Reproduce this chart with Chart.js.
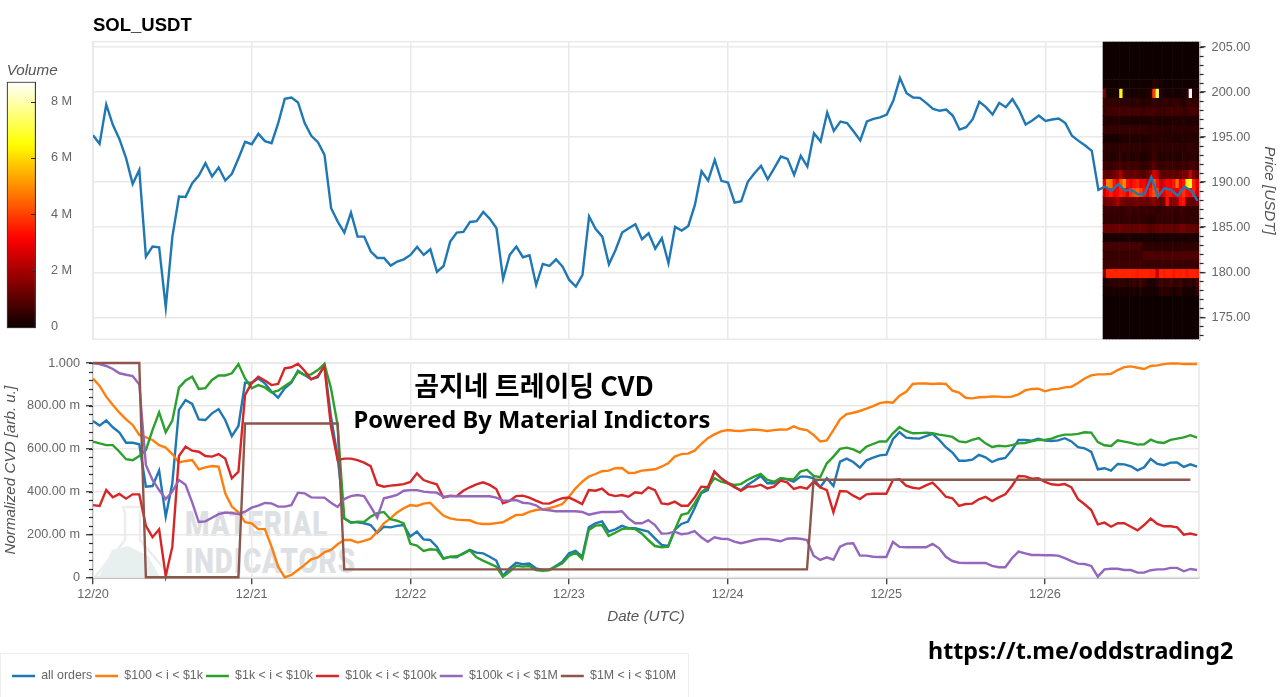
<!DOCTYPE html>
<html lang="en"><head><meta charset="utf-8"><title>SOL_USDT CVD</title>
<script src="https://cdn.jsdelivr.net/npm/chart.js@4"></script>
<style>
html,body{margin:0;padding:0;width:1280px;height:697px;overflow:hidden;background:#fff}
canvas{position:absolute;z-index:2}
.t{position:absolute;white-space:nowrap;z-index:3;color:#000}
</style></head><body>
<svg width="200" height="90" style="position:absolute;left:85px;top:495px;z-index:0" viewBox="85 495 200 90">
<path d="M123 507 L143 507 L140 513 L140 540 L171 577 L95 577 L125 540 L125 513 Z" fill="none" stroke="#eceeee" stroke-width="2.5"/>
<path d="M112 550 L128 546 L148 556 L160 577 L99 577 Z" fill="#e7efef"/>
</svg>
<div class="wm" id="wm1" style="position:absolute;z-index:0;left:185px;top:504px;font:900 35px Roboto;color:#dde1e4;transform:scaleX(.8);transform-origin:0 0;letter-spacing:1px">MATERIAL</div>
<div class="wm" id="wm2" style="position:absolute;z-index:0;left:185px;top:541px;font:900 35px Roboto;color:#dde1e4;transform:scaleX(.8);transform-origin:0 0;letter-spacing:1px">INDICATORS</div>
<div style="position:absolute;z-index:0;left:0;top:653px;width:687px;height:44px;border:1px solid #eeeeee;border-bottom:0"></div>
<div class="t" style="left:534px;top:365px;transform:translateX(-50%);font:700 27px 'Noto Sans CJK KR'">곰지네 트레이딩 CVD</div>
<div class="t" style="left:532px;top:403px;transform:translateX(-50%);font:700 23.7px 'Noto Sans'">Powered By Material Indictors</div>
<div class="t" style="left:928px;top:634px;font:700 23.3px 'Noto Sans'">https://t.me/oddstrading2</div>
<canvas id="bar" width="93" height="280" style="left:0;top:60px"></canvas>
<canvas id="price" width="1280" height="345" style="left:0;top:0"></canvas>
<canvas id="cvd" width="1280" height="352" style="left:0;top:345px"></canvas>
<script>
const chartTitle = 'SOL_USDT';
const dayLabels = ['12/20','12/21','12/22','12/23','12/24','12/25','12/26'];
const cvdTickLabels = ['0','200.00 m','400.00 m','600.00 m','800.00 m','1.000'];
const volumeTickLabels = ['0','2 M','4 M','6 M','8 M'];
const seriesNames = ['all orders','$100 < i < $1k','$1k < i < $10k','$10k < i < $100k','$100k < i < $1M','$1M < i < $10M'];
const seriesColors = ['#1f77b4','#ff7f0e','#2ca02c','#d62728','#9467bd','#8c564b'];

const priceUsdt = [195.22,194.26,198.63,196.37,194.78,192.67,189.81,191.37,181.74,182.85,182.78,176.11,183.96,188.41,188.37,189.89,190.74,192.11,190.63,191.63,190.19,190.93,192.67,194.48,194.22,195.37,194.56,194.33,196.56,199.26,199.41,198.85,196.56,195.15,194.44,193.04,187.11,185.63,184.41,186.63,183.96,183.96,182.30,181.59,181.59,180.74,181.19,181.44,181.93,182.81,181.93,182.56,180.04,180.70,183.41,184.41,184.48,185.59,185.67,186.70,185.93,184.89,179.26,181.93,182.85,181.67,181.89,178.59,180.93,180.70,181.44,180.63,179.15,178.41,179.70,186.19,184.81,183.96,180.89,182.48,184.41,184.89,185.33,183.67,184.33,182.63,183.78,181.00,185.04,184.63,185.15,187.48,191.22,190.19,192.48,190.15,189.96,187.74,187.89,190.04,191.00,191.81,190.33,191.56,192.85,192.59,190.81,192.93,191.74,195.44,194.52,197.74,195.70,196.74,196.56,195.63,194.63,196.74,197.04,197.19,197.52,199.07,201.56,199.89,199.41,199.37,198.78,198.15,197.93,198.07,197.37,195.85,196.11,197.00,198.93,198.33,197.52,198.81,198.33,199.22,198.04,196.41,196.85,197.41,196.81,196.96,197.07,196.56,195.15,194.59,194.07,193.48,189.15,189.52,189.04,189.78,189.07,189.15,188.63,188.70,190.56,188.41,189.33,189.15,188.48,189.52,189.07,187.93];

const cvdAll = [.729,.708,.732,.700,.675,.628,.628,.621,.423,.426,.498,.283,.439,.781,.827,.809,.737,.734,.765,.785,.734,.659,.706,.908,.908,.928,.905,.866,.838,.882,.908,.964,.944,.924,.933,.991,.750,.563,.275,.257,.257,.252,.244,.208,.236,.233,.240,.244,.190,.213,.177,.174,.143,.089,.095,.093,.112,.128,.115,.112,.096,.078,.006,.042,.068,.061,.064,.042,.034,.034,.053,.073,.112,.123,.096,.233,.252,.261,.213,.224,.240,.229,.229,.221,.213,.182,.151,.146,.221,.249,.260,.322,.392,.407,.493,.462,.442,.420,.407,.431,.451,.473,.439,.439,.462,.457,.446,.470,.470,.462,.420,.462,.426,.540,.554,.538,.512,.546,.558,.569,.572,.644,.677,.652,.649,.647,.659,.669,.641,.607,.582,.544,.544,.549,.571,.560,.538,.551,.557,.594,.641,.641,.638,.647,.638,.636,.639,.649,.634,.607,.602,.585,.504,.509,.498,.529,.527,.518,.499,.513,.552,.529,.523,.535,.536,.515,.527,.516];
const cvd100to1k = [.928,.893,.843,.804,.768,.737,.711,.664,.653,.641,.617,.605,.575,.536,.543,.547,.504,.513,.519,.516,.392,.330,.303,.257,.252,.225,.225,.143,.050,0,.011,.034,.058,.084,.093,.117,.128,.154,.174,.174,.162,.170,.180,.213,.252,.275,.303,.322,.337,.333,.344,.348,.317,.288,.275,.269,.267,.266,.253,.249,.249,.253,.257,.274,.291,.292,.305,.314,.317,.323,.331,.342,.376,.415,.446,.470,.482,.495,.498,.509,.510,.487,.488,.498,.501,.504,.516,.532,.563,.575,.577,.591,.622,.649,.667,.681,.687,.684,.683,.687,.690,.687,.683,.687,.690,.689,.704,.692,.687,.664,.634,.639,.687,.737,.762,.768,.776,.787,.799,.813,.818,.815,.847,.866,.902,.905,.904,.902,.904,.902,.871,.862,.838,.835,.840,.841,.844,.843,.841,.843,.854,.872,.879,.880,.868,.877,.879,.886,.889,.907,.928,.942,.947,.947,.950,.967,.981,.984,.978,.972,.986,.989,.995,.998,.998,.995,.995,.995];
const cvd1kto10k = [.633,.625,.617,.617,.586,.551,.546,.566,.594,.687,.770,.677,.731,.885,.918,.936,.879,.883,.921,.942,.942,.952,.995,.928,.882,.897,.886,.863,.871,.893,.913,.959,.944,.947,.967,.995,.882,.711,.275,.255,.260,.258,.283,.299,.305,.271,.264,.252,.156,.148,.123,.131,.128,.086,.096,.098,.109,.126,.093,.078,.064,.050,.003,.026,.054,.050,.053,.034,.030,.034,.050,.065,.100,.115,.086,.221,.241,.244,.193,.208,.225,.229,.225,.205,.174,.146,.140,.143,.221,.292,.299,.345,.397,.420,.462,.446,.439,.431,.435,.454,.470,.482,.454,.446,.462,.459,.457,.493,.502,.473,.467,.532,.563,.599,.605,.597,.582,.610,.622,.634,.634,.672,.701,.683,.672,.673,.675,.672,.666,.661,.655,.634,.630,.641,.650,.625,.608,.614,.611,.617,.625,.627,.634,.641,.641,.647,.659,.666,.666,.669,.677,.675,.631,.616,.613,.639,.633,.627,.619,.621,.642,.630,.627,.641,.647,.653,.663,.652];
const cvd10kto100k = [.337,.333,.407,.373,.389,.367,.387,.387,.240,.187,.224,.006,.143,.566,.610,.591,.586,.566,.563,.575,.554,.462,.493,.851,.905,.936,.918,.897,.902,.975,.980,.997,.964,.924,.939,.983,.703,.547,.554,.554,.547,.535,.519,.432,.423,.428,.431,.435,.445,.485,.454,.443,.434,.372,.381,.379,.404,.420,.434,.443,.431,.412,.345,.356,.379,.381,.372,.358,.345,.344,.358,.369,.372,.358,.342,.407,.404,.414,.387,.379,.384,.376,.397,.392,.420,.407,.345,.341,.353,.334,.334,.372,.423,.420,.493,.463,.439,.423,.403,.423,.423,.432,.415,.423,.451,.443,.412,.421,.414,.446,.420,.407,.303,.403,.401,.381,.365,.387,.390,.390,.390,.454,.457,.428,.418,.414,.429,.442,.411,.376,.369,.333,.342,.344,.364,.375,.356,.373,.387,.426,.473,.471,.460,.462,.445,.434,.431,.435,.420,.365,.341,.314,.247,.255,.236,.252,.252,.236,.219,.244,.274,.249,.238,.238,.233,.199,.204,.197];
const cvd100kto1M = [1,.995,.986,.972,.952,.945,.939,.900,.524,.454,.407,.365,.400,.454,.432,.350,.258,.261,.278,.295,.302,.300,.295,.306,.325,.334,.347,.345,.330,.330,.337,.395,.392,.373,.372,.372,.348,.328,.365,.379,.384,.379,.330,.278,.369,.376,.384,.404,.407,.407,.400,.397,.395,.376,.378,.378,.378,.378,.378,.378,.378,.372,.359,.358,.361,.348,.345,.336,.316,.313,.308,.308,.308,.308,.305,.292,.299,.305,.305,.305,.308,.275,.252,.252,.267,.244,.204,.205,.213,.201,.205,.215,.187,.166,.187,.180,.179,.166,.159,.166,.174,.179,.179,.174,.168,.180,.182,.180,.174,.101,.081,.093,.082,.143,.157,.159,.101,.101,.096,.095,.095,.165,.142,.140,.140,.140,.140,.156,.135,.096,.076,.068,.067,.067,.067,.067,.053,.047,.047,.089,.120,.112,.104,.104,.103,.103,.101,.089,.076,.064,.062,.053,.003,.037,.040,.040,.034,.034,.022,.022,.033,.037,.037,.044,.044,.028,.039,.034];
const cvd1Mto10M = [1,1,1,1,1,1,1,1,0,0,0,0,0,0,0,0,0,0,0,0,0,0,0,.718,.718,.718,.718,.718,.718,.718,.718,.718,.718,.718,.718,.718,.718,.718,.037,.037,.037,.037,.037,.037,.037,.037,.037,.037,.037,.037,.037,.037,.037,.037,.037,.037,.037,.037,.037,.037,.037,.037,.037,.037,.037,.037,.037,.037,.037,.037,.037,.037,.037,.037,.037,.037,.037,.037,.037,.037,.037,.037,.037,.037,.037,.037,.037,.037,.037,.037,.037,.037,.037,.037,.037,.037,.037,.037,.037,.037,.037,.037,.037,.037,.037,.037,.037,.037,.037,.455,.455,.455,.455,.455,.455,.455,.455,.455,.455,.455,.455,.455,.455,.455,.455,.455,.455,.455,.455,.455,.455,.455,.455,.455,.455,.455,.455,.455,.455,.455,.455,.455,.455,.455,.455,.455,.455,.455,.455,.455,.455,.455,.455,.455,.455,.455,.455,.455,.455,.455,.455,.455,.455,.455,.455,.455,.455];
const cvdSeries = [cvdAll,cvd100to1k,cvd1kto10k,cvd10kto100k,cvd100kto1M,cvd1Mto10M];

// Volume profile heat map: hour of each column, price edges of each row, volume (millions) per row/column
const heatHours = [152.95,153.45,153.95,154.45,154.95,155.45,155.95,156.45,156.95,157.45,157.95,158.45,158.95,159.45,159.95,160.45,160.95,161.45,161.95,162.45,162.95,163.45,163.95,164.45,164.95,165.45,165.95,166.45,166.95];
const heatPriceEdges = [172.4,177.4,178.4,179.4,180.4,181.4,182.4,183.4,184.4,185.4,186.4,187.4,188.4,189.4,190.4,191.4,192.4,193.4,194.4,195.4,196.4,197.4,198.4,199.4,200.4,201.4,205.7];
const heatVolume = [
[0,0,0,0,0,0,0,0,0,0,0,0,0,0,0,0,0,0,0,0,0,0,0,0,0,0,0,0,0],
[.1,.1,.1,.2,.1,.1,.15,.1,.1,.25,.1,.3,.1,.1,.1,.1,.1,.4,.3,.4,.25,.1,.3,.4,.1,.1,.15,.1,.45],
[.2,.3,.4,.45,.4,.45,.5,.3,.45,.6,.4,.7,.5,.3,.2,.15,.45,.7,.5,.6,.75,.45,.5,.7,.4,.4,.5,.3,.75],
[1.5,3.6,3.6,3.6,3.6,3.6,3.6,3.6,3.6,3.6,3.5,3.6,3.6,3.6,3.5,3.5,2.4,3.6,3.5,3.6,3.6,3.4,3.6,3.5,3.6,3.4,3.6,3.6,3.5],
[.6,.6,.6,.6,.6,.6,.6,.6,.6,.6,.6,.6,.55,.55,.55,.55,.55,.55,.55,.55,.55,.55,.55,.55,.55,.55,.55,.55,.55],
[.55,.55,.55,.55,.55,.55,.55,.55,.55,.55,.55,.55,.8,.8,.8,.8,.8,.8,.8,.8,.8,.8,.8,.8,.8,.8,.8,.8,.8],
[.7,.7,.7,.7,.7,.7,.7,.7,.7,.7,.7,.7,.4,.4,.4,.4,.4,.4,.4,.4,.4,.4,.4,.4,.4,.4,.4,.4,.4],
[.15,.15,.2,.15,.15,.1,.15,.2,.15,.15,.15,.1,.15,.2,.15,.1,.15,.2,.2,.15,.2,.15,.15,.2,.15,.15,.2,.2,.15],
[1.2,1.2,1.1,1.1,1.2,1.2,1.1,1.1,1,1.1,1.1,1.2,1.1,1,.9,1,1.1,1.2,1,1.2,1.1,1,1.1,1.3,1.3,1.1,1.1,1.1,1],
[.45,.5,.45,.5,.45,.4,.5,.5,.45,.45,.5,.45,.45,.4,.3,.4,.5,.45,.5,.5,.5,.45,.45,.5,.5,.45,.5,.45,.45],
[.5,.6,.5,.6,.5,.45,.5,.6,.6,.5,.6,.5,.5,.6,.45,.5,.45,.45,.5,.6,.6,.5,.5,.6,.5,.5,.45,.45,.45],
[1.2,1.4,1.3,1.6,2,1.4,1.3,1.2,1.1,1.3,1.4,1.1,1.3,1.1,1.4,1.6,1.2,1,1.2,3.4,1.4,1.6,1.8,3.2,3.4,1.3,1.2,1.1,1.3],
[2.4,3.2,3.6,3,3.2,3.6,3.4,2.8,3.8,4.2,4.4,4,3.4,3,3.6,4.2,4,2.6,2.8,3.4,3.4,3,2.8,3.4,3.8,3.2,3,3.6,2.6],
[2.7,4.8,4.6,3.4,2.8,4.2,5,3.4,3,3.4,3.6,3,3.2,2.6,3,4.4,3.4,2.4,2.6,3.2,3,3.4,4.6,3,3.4,6.2,6.8,3.6,2.8],
[1.1,1,1,1.3,1.5,2,1.2,1.1,1,1.2,1.1,.9,.9,1.1,1.5,2.6,2.2,1,.9,1.1,1,1.1,1,1.1,1.4,1.3,2.4,1.4,1],
[.6,.5,.5,.6,.7,.7,.5,.7,.5,.6,.6,.45,.45,.5,.7,1,.6,.5,.5,.7,.5,.6,.5,.5,.7,.5,.75,.7,.5],
[.4,.35,.3,.25,.4,.45,.25,.4,.2,.3,.4,.2,.2,.3,.4,.6,.4,.2,.3,.4,.2,.4,.25,.2,.4,.3,.4,.45,.3],
[.45,.45,.4,.4,.4,.45,.5,.45,.4,.45,.4,.45,.35,.4,.45,.55,.45,.4,.4,.45,.4,.4,.45,.4,.4,.45,.5,.45,.4],
[.15,.1,.1,.1,.1,.15,.25,.25,.3,.25,.25,.25,.2,.3,.3,.4,.35,.35,.3,.35,.3,.3,.25,.3,.3,.3,.35,.3,.3],
[.5,.45,.5,.5,.5,.5,.5,.5,.5,.5,.5,.5,.5,.45,.4,.45,.4,.4,.4,.4,.3,.4,.4,.4,.4,.4,.4,.4,.4],
[.3,.2,.2,.3,.3,.2,.2,.2,.2,.15,.15,.2,.2,.2,.2,.3,.2,.2,.2,.2,.2,.2,.3,.2,.3,.2,.2,.3,.2],
[.5,.6,.6,.7,.7,.7,.6,.7,.6,.7,.7,.6,.6,.7,.7,.7,.6,.6,.5,.7,.7,.6,.7,.7,.5,.6,.7,.7,.6],
[.5,.45,.45,.5,.4,.4,.45,.4,.3,.4,.45,.3,.2,.4,.4,.5,.4,.4,.45,.5,.3,.45,.5,.4,.2,.5,.6,.45,.4],
[1.4,.1,.1,.1,.1,6.4,.2,.1,.1,.1,.1,.1,.1,.2,.3,4,7.2,.3,.15,.1,.1,.1,.1,.1,.15,.4,8.7,.3,.15],
[.05,.05,.05,.05,.05,.05,.05,.05,.05,.05,.05,.05,.05,.05,.05,.3,.3,.05,.05,.05,.05,.05,.05,.05,.05,.05,.05,.05,.05],
[0,0,0,0,0,0,0,0,0,0,0,0,0,0,0,0,0,0,0,0,0,0,0,0,0,0,0,0,0]
];
const volumeMin = -0.05, volumeMax = 8.71;

const GRID = '#e9e9e9', AXIS = '#2b2b2b', TEXT = '#666666', TITLE = '#555555';
const SANS = "'Liberation Sans'";
const clamp = v => Math.max(0, Math.min(1, v));
function hot(f){
  const r = clamp(0.0416 + f/0.365*0.9584), g = clamp((f-0.365)/0.381), b = clamp((f-0.746)/0.254);
  return `rgb(${Math.round(r*255)},${Math.round(g*255)},${Math.round(b*255)})`;
}
const heatCells = [];
heatVolume.forEach((row,r)=>row.forEach((v,c)=>heatCells.push({x:heatHours[c],y:[heatPriceEdges[r],heatPriceEdges[r+1]],v})));

const frame = {id:'frame',beforeDatasetsDraw(c){
  const a=c.chartArea,x=c.ctx;x.save();x.strokeStyle=GRID;x.lineWidth=1.5;
  x.strokeRect(a.left,a.top,a.width,a.height);x.restore();}};
const minor = (axis,step,len,side)=>({id:'minor',afterDraw(c){
  const s=c.scales[axis],a=c.chartArea,x=c.ctx;x.save();x.strokeStyle=AXIS;x.lineWidth=1.2;
  for(let v=Math.ceil(s.min/step)*step;v<=s.max+1e-9;v+=step){
    const y=Math.round(s.getPixelForValue(v))+.5;
    const x0=side>0?a.right:a.left;
    x.beginPath();x.moveTo(x0,y);x.lineTo(x0+side*len,y);x.stroke();}
  x.restore();}});
const noPadV = s => { s.paddingTop=0; s.paddingBottom=0; };
const noPadH = s => { s.paddingLeft=0; s.paddingRight=0; };

const xScale = extra => Object.assign({
  type:'linear',min:0,max:167.3,offset:false,
  grid:{color:GRID,lineWidth:1.5,offset:false,drawTicks:false},
  border:{display:false},
  ticks:{stepSize:24,includeBounds:false,autoSkip:false,maxRotation:0,display:false}
},extra);

new Chart(document.getElementById('price'),{
  type:'line',
  data:{datasets:[
    {type:'line',label:'price',data:priceUsdt.map((y,x)=>({x,y})),borderColor:seriesColors[0],borderWidth:2.4,pointRadius:0,tension:0,order:0},
    {type:'bar',label:'volume',data:heatCells,backgroundColor:c=>hot((c.raw.v-volumeMin)/(volumeMax-volumeMin)),barPercentage:1,categoryPercentage:1,order:1}
  ]},
  options:{responsive:false,animation:false,events:[],
    layout:{padding:{left:93,top:0,right:0,bottom:5.7}},
    plugins:{legend:{display:false},tooltip:{enabled:false},
      title:{display:true,text:chartTitle,align:'start',color:'#000',font:{family:SANS,size:18.5,weight:'bold'},padding:{top:15,bottom:4.5}}},
    scales:{
      x:xScale({afterFit(s){s.height=0;noPadH(s)}}),
      y:{type:'linear',position:'right',min:172.56,max:205.6,
        grid:{color:GRID,lineWidth:1.5,tickColor:AXIS,tickLength:6,tickWidth:1.2},
        border:{display:true,color:AXIS,width:1.2},
        ticks:{stepSize:5,includeBounds:false,padding:6,color:TEXT,font:{family:SANS,size:12.7},callback:v=>v.toFixed(2)},
        title:{display:true,text:'Price [USDT]',color:TITLE,font:{family:SANS,size:15.2,style:'italic'},padding:{top:1.9,bottom:0}},
        afterFit(s){s.width=80.4;noPadV(s)}
      }
    }},
  plugins:[frame,minor('y',1,4,1)]
});

new Chart(document.getElementById('cvd'),{
  type:'line',
  data:{datasets:seriesNames.map((label,i)=>({label,data:cvdSeries[i].map((y,x)=>({x,y})),borderColor:seriesColors[i],backgroundColor:seriesColors[i],borderWidth:2.4,pointRadius:0,tension:0,clip:4,order:5-i}))},
  options:{responsive:false,animation:false,events:[],
    layout:{padding:{left:9,top:18,right:81,bottom:4.8}},
    plugins:{tooltip:{enabled:false},
      legend:{display:true,position:'bottom',align:'start',
        labels:{usePointStyle:true,pointStyle:'line',pointStyleWidth:23,padding:3,color:TEXT,font:{family:SANS,size:12.4},sort:(a,b)=>a.datasetIndex-b.datasetIndex}}},
    scales:{
      x:xScale({
        grid:{color:GRID,lineWidth:1.5,offset:false,tickColor:AXIS,tickLength:7,tickWidth:1.2},
        border:{display:true,color:AXIS,width:1.2},
        ticks:{stepSize:24,includeBounds:false,autoSkip:false,maxRotation:0,display:true,padding:3,color:TEXT,font:{family:SANS,size:12.7},callback:v=>dayLabels[v/24]},
        title:{display:true,text:'Date (UTC)',color:TITLE,font:{family:SANS,size:15.2,style:'italic'},padding:{top:0,bottom:40.7}},
        afterFit(s){s.height=89.5;noPadH(s)}
      }),
      y:{type:'linear',min:0,max:1,
        grid:{color:GRID,lineWidth:1.5,tickColor:AXIS,tickLength:7,tickWidth:1.2},
        border:{display:true,color:AXIS,width:1.2},
        ticks:{stepSize:.2,includeBounds:false,padding:6,color:TEXT,font:{family:SANS,size:12.7},callback:v=>cvdTickLabels[Math.round(v*5)]},
        title:{display:true,text:'Normalized CVD [arb. u.]',color:TITLE,font:{family:SANS,size:15.2,style:'italic'},padding:{top:-7.1,bottom:0}},
        afterFit(s){s.width=84;noPadV(s)}
      }
    }},
  plugins:[frame,minor('y',.04,4,-1)]
});

new Chart(document.getElementById('bar'),{
  type:'bar',
  data:{labels:['Volume'],datasets:[{label:'Volume',data:[[volumeMin,volumeMax]],barPercentage:1,categoryPercentage:1,borderColor:'#3a3a3a',borderWidth:1.5,borderSkipped:false,
    backgroundColor(c){
      const a=c.chart.chartArea;if(!a)return '#000';
      const g=c.chart.ctx.createLinearGradient(0,a.bottom,0,a.top);
      for(let i=0;i<=40;i++)g.addColorStop(i/40,hot(i/40));
      return g;}}]},
  options:{responsive:false,animation:false,events:[],
    layout:{padding:{left:6.7,right:0,top:0,bottom:11.7}},
    plugins:{legend:{display:false},tooltip:{enabled:false},
      title:{display:true,text:'Volume',align:'start',color:TITLE,font:{family:SANS,size:15.2,style:'italic',weight:'normal'},padding:{top:2,bottom:1.46}}},
    scales:{
      x:{display:false},
      y:{position:'right',min:volumeMin,max:volumeMax,
        grid:{display:false,drawTicks:false},border:{display:false},
        ticks:{stepSize:2,includeBounds:false,padding:15,color:TEXT,font:{family:SANS,size:12.7},callback:v=>volumeTickLabels[Math.round(v/2)]},
        afterFit(s){s.width=57;noPadV(s)}
      }
    }},
  plugins:[{id:'inner',afterDraw(c){
    const s=c.scales.y,a=c.chartArea,x=c.ctx;x.save();x.strokeStyle='#2b2b2b';x.lineWidth=1;
    s.ticks.forEach(t=>{if(t.value<=0)return;const y=Math.round(s.getPixelForValue(t.value))+.5;x.beginPath();x.moveTo(a.right-5,y);x.lineTo(a.right,y);x.stroke();});
    x.restore();}}]
});
</script>
</body></html>
